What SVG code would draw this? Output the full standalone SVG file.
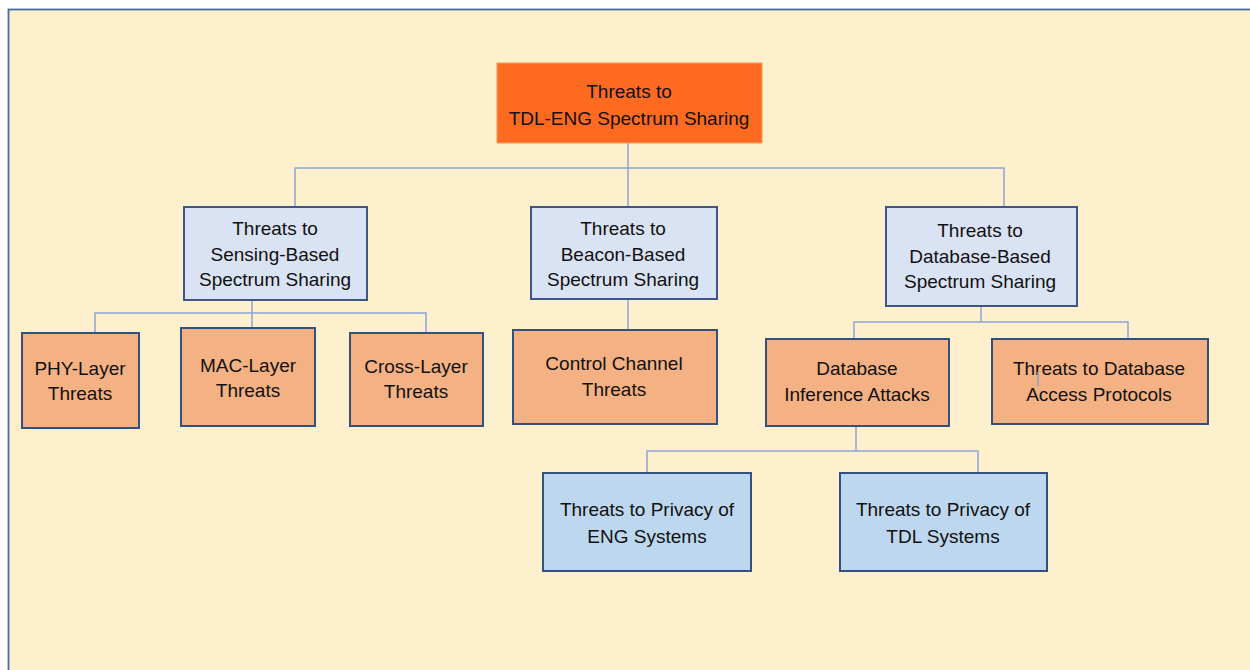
<svg xmlns="http://www.w3.org/2000/svg" width="1250" height="670" viewBox="0 0 1250 670">
<style>
text{font-family:"Liberation Sans",Arial,sans-serif;font-size:19px;fill:#111;text-anchor:middle}
.l2{fill:#dae3f3;stroke:#3d5587;stroke-width:2}
.or{fill:#f4b183;stroke:#34507f;stroke-width:2}
.bl{fill:#bdd7ee;stroke:#34507f;stroke-width:2}
.root{fill:#fe6a1f;stroke:#f59a60;stroke-width:1}
.con{fill:none;stroke:#8aa5d6;stroke-width:1.5}
</style>
<rect x="0" y="0" width="1250" height="670" fill="#ffffff"/>
<rect x="8.5" y="9.5" width="1250" height="670" fill="#fff0cd" stroke="#4a6aa0" stroke-width="1.8"/>
<g id="connectors">
<path class="con" d="M628 143V168M295 207V168H1004V207M628 168V207"/>
<path class="con" d="M252 301V327M95 333V313H426V335"/>
<path class="con" d="M628 299V330"/>
<path class="con" d="M981 306V322M854 339V322H1128V342"/>
<path class="con" d="M856 426V451M647 473V451H978V473"/>
</g>
<g id="root"><rect class="root" x="497" y="63" width="265" height="80"/><text x="629" y="98">Threats to</text><text x="629" y="125">TDL-ENG Spectrum Sharing</text></g>
<g id="sensing"><rect class="l2" x="184" y="207" width="183" height="93"/><text x="275" y="235">Threats to</text><text x="275" y="261">Sensing-Based</text><text x="275" y="286">Spectrum Sharing</text></g>
<g id="beacon"><rect class="l2" x="531" y="207" width="186" height="92"/><text x="623" y="235">Threats to</text><text x="623" y="261">Beacon-Based</text><text x="623" y="286">Spectrum Sharing</text></g>
<g id="database"><rect class="l2" x="886" y="207" width="191" height="99"/><text x="980" y="237">Threats to</text><text x="980" y="263">Database-Based</text><text x="980" y="288">Spectrum Sharing</text></g>
<g id="phy"><rect class="or" x="22" y="333" width="117" height="95"/><text x="80" y="375">PHY-Layer</text><text x="80" y="400">Threats</text></g>
<g id="mac"><rect class="or" x="181" y="328" width="134" height="98"/><text x="248" y="372">MAC-Layer</text><text x="248" y="397">Threats</text></g>
<g id="cross"><rect class="or" x="350" y="333" width="133" height="93"/><text x="416" y="373">Cross-Layer</text><text x="416" y="398">Threats</text></g>
<g id="control"><rect class="or" x="513" y="330" width="204" height="94"/><text x="614" y="370">Control Channel</text><text x="614" y="396">Threats</text></g>
<g id="inference"><rect class="or" x="766" y="339" width="183" height="87"/><text x="857" y="375">Database</text><text x="857" y="401">Inference Attacks</text></g>
<g id="access"><rect class="or" x="992" y="339" width="216" height="85"/><text x="1099" y="375">Threats to Database</text><text x="1099" y="401">Access Protocols</text></g>
<g id="eng"><rect class="bl" x="543" y="473" width="208" height="98"/><text x="647" y="516">Threats to Privacy of</text><text x="647" y="543">ENG Systems</text></g>
<g id="tdl"><rect class="bl" x="840" y="473" width="207" height="98"/><text x="943" y="516">Threats to Privacy of</text><text x="943" y="543">TDL Systems</text></g>
<path class="con" d="M1038 372V386"/>
</svg>
